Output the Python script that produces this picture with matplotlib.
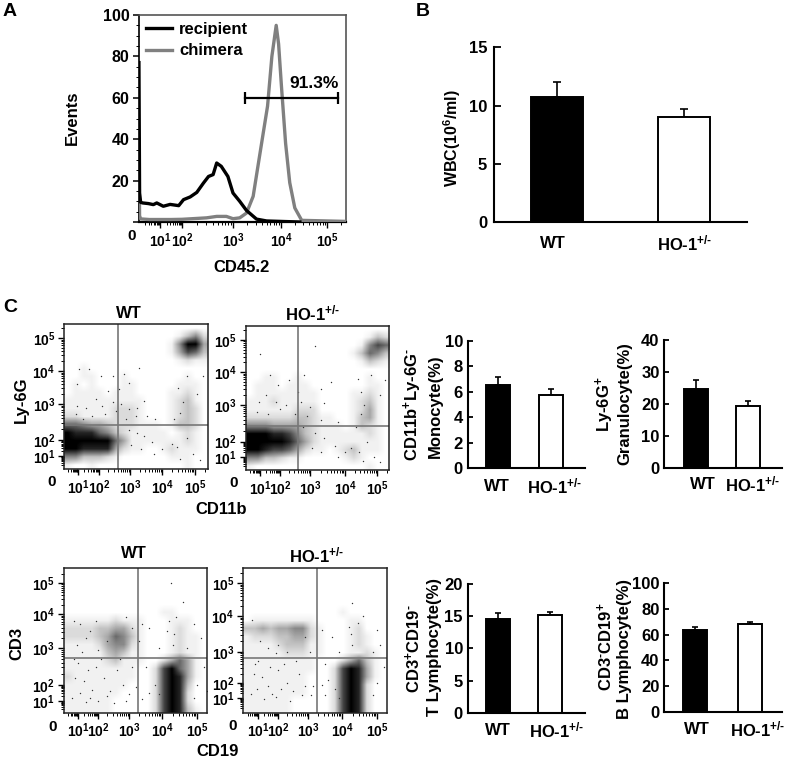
import numpy as np
import matplotlib
matplotlib.use("Agg")
import matplotlib.pyplot as plt
from matplotlib import font_manager as fm
from matplotlib.ticker import FixedLocator, NullFormatter

W, H = 788, 761
names = {f.name for f in fm.fontManager.ttflist}
BOLD = "Liberation Sans"
NARROW = "Liberation Sans Narrow" if "Liberation Sans Narrow" in names else BOLD
plt.rcParams.update({
    "font.family": BOLD, "font.weight": "bold",
    "mathtext.fontset": "custom", "mathtext.default": "rm",
    "mathtext.rm": BOLD + ":bold", "mathtext.bf": BOLD + ":bold",
    "mathtext.sf": NARROW + ":bold", "mathtext.it": BOLD + ":bold",
})
MINUS = r"\text{-}"

# ---------- Panel A data (log10 of CD45.2, % of max events)
recipient_log = [0.02, 0.05, 0.1, 0.2, 0.46, 0.69, 0.85, 1.15, 1.46, 1.85, 2.03, 2.16, 2.29, 2.42, 2.52,
                 2.61, 2.68, 2.77, 2.9, 3.0, 3.14, 3.28, 3.49, 3.7, 4.41]
recipient_y = [77, 14, 9.5, 9.2, 8.9, 8.4, 9.2, 7.6, 8.5, 7.9, 10.8, 12.1, 14.3, 18.8, 22,
               22.9, 28.5, 26.9, 22, 14, 10, 5.6, 1.4, 0.5, 0]
chimera_log = [0.02, 0.05, 0.1, 0.5, 1.0, 1.5, 2.0, 2.48, 2.68, 2.87, 3.0, 3.14, 3.28, 3.42, 3.52, 3.63,
               3.72, 3.81, 3.9, 3.95, 4.01, 4.1, 4.19, 4.3, 4.45, 5.39]
chimera_y = [40, 3, 1.5, 1.2, 1.2, 1.2, 1.3, 2, 2.7, 2.7, 1.6, 2, 4.3, 12.4, 27, 43,
             56, 80, 95, 86, 65.5, 38, 19, 6.8, 0.8, 0.3]
gate_log = [3.24, 5.23]
gate_y = 60

# ---------- Bar data
groups = ["WT", "HO-1$^{+/" + MINUS + "}$"]
wbc_mean, wbc_top = [10.77, 9.03], [12.0, 9.74]
mono_mean, mono_top = [6.5, 5.77], [7.13, 6.19]
gran_mean, gran_top = [24.8, 19.27], [27.5, 20.9]
tcell_mean, tcell_top = [14.56, 15.23], [15.44, 15.7]
bcell_mean, bcell_top = [63.4, 68.6], [66.2, 70.1]

# ---------- Dot-plot event density (0 empty .. 9 black), top row first
ly6g_wt = ["000000000000000000", "000000000000001352", "000000000000015994", "000000000000014763",
           "000000000000001211", "001000000000000000", "001100010000000100", "010100011000001110",
           "011110111000011210", "111111111100012310", "111111222100012320", "221111222100012320",
           "665443222111013320", "988865321111101210", "999999641111111210", "998888421100121110",
           "553332100000011100", "100100000000000100"]
ly6g_ho = ["000000000000000000", "000000000000000132", "000000000000001576", "000000000000013653",
           "000000000000001321", "000000000000000000", "001100100000000100", "011101110000000110",
           "011111111000011210", "111211111000012310", "111111222000012410", "222222332110013410",
           "555444432111013210", "999887532111111210", "999998642111111110", "998776421101231110",
           "553321100000121000", "100000000000000100"]
cd3_wt = ["000000000000000000", "000000000000000000", "000000000000000000", "000000000000000000",
          "000000000000000000", "000000000000110000", "111111211100011100", "222233442100012100",
          "222234653100012110", "111124552100012110", "111113431100012110", "111112311100246410",
          "111111111002796410", "211111111002798410", "111111110002798300", "111111100002798200",
          "111111000002798200", "111111000002798310"]
cd3_ho = ["000000000000000000", "000000000000000000", "000000000000000000", "000000000000000000",
          "000000000000000000", "000000000000100000", "011111111000011000", "334344552100012000",
          "122233442100012100", "111123331100012100", "111112221100011210", "111111111000246310",
          "111111111002798410", "111111110002798410", "111111110002798200", "111111110002798200",
          "111111000002798200", "111111000002798200"]

# ---------- Individually visible stray events (log10 x, log10 y)
ly6g_wt_x = [1.05, 1.54, 2.05, 2.46, 2.82, 3.28, 2.97, 0.92, 1.85, 2.3, 2.63, 0.92, 1.38, 2.1, 2.46, 2.71, 2.97,
             3.23, 3.43, 0.85, 1.23, 1.69, 2.2, 2.56, 2.87, 3.18, 3.54, 3.79, 2.97, 3.23, 3.43, 3.69, 4.0, 4.3,
             4.45, 4.75, 4.95, 5.15, 4.55, 3.33, 3.74, 3.02, 4.5, 4.75, 4.65, 5.05, 4.55, 4.35, 5.25]
ly6g_wt_y = [4.07, 4.05, 3.85, 3.85, 3.9, 4.1, 3.65, 3.6, 3.15, 3.4, 3.45, 2.95, 2.9, 2.95, 3.05, 3.0, 2.86,
             2.9, 3.1, 2.71, 2.57, 2.67, 2.71, 2.81, 2.57, 2.67, 2.67, 2.57, 2.29, 2.19, 2.1, 1.89, 1.44, 1.78,
             1.56, 2.05, 1.11, 0.7, 0.8, 1.44, 1.11, 1.67, 3.5, 3.85, 3.05, 3.3, 2.76, 2.57, 3.85]
ly6g_ho_x = [1.0, 3.15, 1.5, 1.9, 2.3, 2.8, 2.6, 3.3, 3.6, 0.9, 1.3, 1.8, 2.2, 2.7, 3.0, 3.4, 0.8, 1.4, 2.0, 2.5,
             2.9, 3.3, 3.8, 3.15, 3.4, 3.7, 4.0, 4.2, 4.45, 4.7, 4.9, 5.1, 4.55, 3.3, 3.8, 3.05, 4.5, 4.8, 4.6,
             5.1, 4.5, 4.35, 5.25, 4.4, 2.75]
ly6g_ho_y = [4.55, 4.8, 3.9, 3.6, 3.75, 3.9, 3.4, 3.5, 3.7, 3.1, 3.3, 3.1, 3.0, 3.1, 2.95, 3.05, 2.8, 2.75, 2.9,
             2.75, 2.7, 2.6, 2.55, 2.25, 2.1, 1.7, 1.3, 1.6, 1.3, 2.0, 1.0, 0.6, 0.7, 1.3, 0.95, 1.6, 3.4, 3.9,
             3.0, 3.3, 2.75, 2.4, 3.75, 3.8, 2.4]
cd3_wt_x = [1.0, 1.3, 1.5, 1.1, 1.7, 1.9, 2.2, 2.4, 2.6, 2.8, 3.0, 3.1, 0.6, 0.8, 1.4, 2.0, 2.5, 2.9, 3.2, 0.7,
            2.1, 2.7, 1.6, 2.3, 4.25, 4.6, 4.4, 4.2, 4.35, 4.3, 4.15, 4.9, 5.1, 4.7, 3.6, 3.4, 3.3, 3.9, 3.5,
            3.8, 3.6, 3.4, 3.9, 5.0, 4.9, 5.2, 5.3, 0.7, 1.1, 1.4, 0.9, 1.6, 1.9, 2.3, 3.1, 2.9, 1.2, 2.0]
cd3_wt_y = [2.6, 2.1, 2.4, 1.5, 1.7, 2.5, 2.2, 1.6, 2.4, 2.0, 1.4, 2.5, 1.2, 2.2, 0.9, 1.0, 0.8, 1.0, 1.9, 2.7,
            2.7, 2.7, 1.2, 1.3, 5.0, 4.4, 3.9, 3.8, 3.4, 3.1, 3.5, 3.7, 3.3, 3.0, 3.6, 3.7, 3.2, 3.0, 2.5,
            2.0, 1.5, 1.1, 1.4, 2.0, 1.2, 2.5, 1.6, 3.8, 3.7, 3.3, 3.1, 3.5, 3.8, 3.2, 3.6, 3.9, 2.9, 2.95]
cd3_ho_x = [0.8, 1.2, 1.6, 0.9, 1.5, 2.0, 2.3, 2.5, 2.7, 2.9, 3.1, 0.5, 0.7, 1.3, 1.9, 2.4, 2.8, 3.15, 1.0, 2.2,
            2.6, 1.7, 2.1, 4.3, 4.6, 4.45, 4.2, 4.3, 4.25, 4.9, 5.1, 5.0, 3.7, 3.4, 3.5, 3.9, 3.6, 3.8, 3.5,
            3.4, 3.9, 5.0, 4.9, 5.2, 0.6, 1.1, 1.5, 2.0, 2.3, 2.9, 3.05, 1.9]
cd3_ho_y = [2.6, 2.2, 2.5, 1.6, 1.8, 2.4, 2.0, 1.5, 2.3, 1.8, 1.2, 1.3, 2.3, 0.9, 1.1, 0.8, 1.2, 1.8, 2.7, 2.6,
            2.7, 1.3, 1.6, 4.4, 4.0, 3.8, 3.7, 3.2, 3.5, 3.0, 3.2, 3.6, 3.4, 3.6, 2.6, 3.0, 2.1, 1.6, 1.2,
            1.9, 1.0, 2.0, 1.2, 2.5, 3.9, 3.3, 3.1, 3.2, 3.0, 3.4, 3.0, 2.95]

# gates (log10 x, log10 y)
gates = {"ly6g_wt": (2.62, 2.42), "ly6g_ho": (2.60, 2.44), "cd3_wt": (3.26, 2.73), "cd3_ho": (3.26, 2.80)}
decades = [1, 2, 3, 4, 5]


def axes_px(l, t, r, b):
    return fig.add_axes([l / W, 1 - b / H, (r - l) / W, (b - t) / H])


def ptext(x, y, s, **kw):
    kw.setdefault("ha", "center")
    kw.setdefault("va", "center")
    kw.setdefault("fontsize", 12)
    fig.text(x / W, 1 - y / H, s, **kw)


def biex(ax, axis, edge0, anchors, edge1):
    """Axis scale with decades at the read pixel anchors."""
    a = list(anchors)
    end = 5 + (edge1 - a[-1]) / (a[-1] - a[-2])
    logs = np.array([0] + decades + [end], float)
    pos = np.array([edge0] + a + [edge1], float)
    if pos[0] > pos[-1]:
        pos = -pos

    def f(v):
        return np.interp(np.log10(np.maximum(v, 1e-6)), logs, pos)

    def g(p):
        return 10 ** np.interp(p, pos, logs)

    lim = (1, 10 ** end)
    if axis == "x":
        ax.set_xscale("function", functions=(f, g))
        ax.set_xlim(lim)
        ai = ax.xaxis
    else:
        ax.set_yscale("function", functions=(f, g))
        ax.set_ylim(lim)
        ai = ax.yaxis
    return ai, end


def set_log_ticks(ai, end, ax, axis, minor=True):
    ai.set_major_locator(FixedLocator([10.0 ** d for d in decades]))
    ai.set_major_formatter(plt.FixedFormatter([r"$\mathsf{10^{%d}}$" % d for d in decades]))
    mins = [m * 10.0 ** d for d in range(0, 6) for m in range(2, 10) if m * 10.0 ** d < 10 ** end]
    ai.set_minor_locator(FixedLocator(mins))
    ai.set_minor_formatter(NullFormatter())
    ax.tick_params(axis=axis, which="major", length=4, width=1.0, labelsize=10, pad=2.5)
    ax.tick_params(axis=axis, which="minor", length=2, width=0.7)


def dot_panel(box, xa, ya, grid, stray_x, stray_y, gate, zero_px, title, title_px):
    l, t, r, b = box
    ax = axes_px(l, t, r, b)
    xi, xe = biex(ax, "x", l, xa, r)
    yi, ye = biex(ax, "y", b, ya, t)
    set_log_ticks(xi, xe, ax, "x")
    set_log_ticks(yi, ye, ax, "y")
    dens = np.array([[int(c) for c in row] for row in grid], float)
    ax.imshow((dens / 9) ** 1.3, extent=(0, 1, 0, 1), transform=ax.transAxes, aspect="auto",
              cmap="gray_r", vmin=0, vmax=1, interpolation="bilinear", zorder=1)
    ax.scatter(10 ** np.array(stray_x), 10 ** np.array(stray_y), s=1.0, color="#333333", linewidths=0, zorder=1.5)
    ax.set_xlim(1, 10 ** xe)
    ax.set_ylim(1, 10 ** ye)
    ax.axvline(10 ** gate[0], color="#777777", lw=1.2, zorder=2)
    ax.axhline(10 ** gate[1], color="#777777", lw=1.2, zorder=2)
    for s in ax.spines.values():
        s.set_linewidth(1.1)
        s.set_color("#222222")
    ptext(zero_px[0], zero_px[1], "0", fontsize=11, family=NARROW)
    ptext(title_px[0], title_px[1], title)
    return ax


def bar_panel(box, c0, c1, width, ymax, yticks, means, tops, wt_x, ho_x, lab_y, cap, tick_len, tick_pad):
    l, t, r, b = box
    ax = axes_px(l, t, r, b)
    sp = c1 - c0
    ax.set_xlim((l - c0) / sp, (r - c0) / sp)
    ax.set_ylim(0, ymax)
    errs = np.array(tops) - np.array(means)
    ax.errorbar([0, 1], means, yerr=[[0, 0], errs], fmt="none", ecolor="black",
                elinewidth=1.2, capsize=cap, capthick=1.2, zorder=1)
    ax.bar([0, 1], means, width=width / sp, color=["black", "white"], edgecolor="black", linewidth=1.4, zorder=2)
    ax.spines[["top", "right"]].set_visible(False)
    ax.spines[["left", "bottom"]].set_linewidth(1.5)
    ax.set_xticks([])
    ax.set_yticks(yticks)
    ax.set_yticklabels([str(v) for v in yticks], family=NARROW, fontsize=12)
    ax.tick_params(axis="y", direction="in", length=tick_len, width=1.3, pad=tick_pad)
    ptext(wt_x, lab_y, groups[0])
    ptext(ho_x, lab_y, groups[1])
    return ax


fig = plt.figure(figsize=(W / 100, H / 100), dpi=100)

# ---------- Panel A
axA = axes_px(138.5, 15, 346, 222)
xi, xe = biex(axA, "x", 138.5, [160, 182, 233, 281, 327], 346)
set_log_ticks(xi, xe, axA, "x")
axA.set_ylim(0, 100)
axA.set_yticks([0, 20, 40, 60, 80, 100])
axA.set_yticklabels(["", "20", "40", "60", "80", "100"], family=NARROW, fontsize=11.5)
axA.set_yticks(np.arange(0, 101, 5), minor=True)
axA.tick_params(axis="y", which="major", length=4.5, width=1.1, pad=2)
axA.tick_params(axis="y", which="minor", length=2, width=0.7)
axA.plot(10 ** np.array(chimera_log), chimera_y, color="#808080", lw=2.4, label="chimera", zorder=3)
axA.plot(10 ** np.array(recipient_log), recipient_y, color="black", lw=2.4, label="recipient", zorder=4)
gl = 10 ** np.array(gate_log)
axA.plot(gl, [gate_y, gate_y], color="black", lw=1.6, zorder=5)
axA.plot(gl, [gate_y, gate_y], ls="none", marker="|", ms=8, mew=1.6, color="black", zorder=5)
handles, labels = axA.get_legend_handles_labels()
axA.legend(handles[::-1], labels[::-1], loc="upper left", bbox_to_anchor=(0.036, 0.967), frameon=False,
           fontsize=12, handlelength=1.55, handletextpad=0.45, labelspacing=0.4, borderpad=0, borderaxespad=0)
for name, sp in axA.spines.items():
    sp.set_linewidth(1.2)
    sp.set_color("black" if name in ("left", "bottom") else "#555555")
axA.spines["bottom"].set_linewidth(1.6)
ptext(314, 83, "91.3%", fontsize=12.5)
ptext(132, 236, "0", fontsize=11, family=NARROW)
ptext(242, 267, "CD45.2")
ptext(72, 118, "Events", rotation=90)

# ---------- Panel B
bar_panel((494, 47.3, 747, 222.3), 557, 684, 52, 15, [0, 5, 10, 15], wbc_mean, wbc_top, 553, 685, 243, 2.9, 5, 5)
ptext(452, 138, "WBC(10$^{6}$/ml)", rotation=90, fontsize=11.5)

# ---------- Panel C dot plots
ho_title = "HO-1$^{+/" + MINUS + "}$"
dot_panel((64.3, 324.3, 208.3, 469), [78, 99, 130, 162, 195], [456, 440, 404, 371, 338], ly6g_wt,
          ly6g_wt_x, ly6g_wt_y, gates["ly6g_wt"], (52, 482), "WT", (129, 313))
dot_panel((245.7, 325.7, 389, 470), [260, 280, 310, 345, 377], [456.7, 441.7, 405, 372, 340], ly6g_ho,
          ly6g_ho_x, ly6g_ho_y, gates["ly6g_ho"], (234, 483), ho_title, (313, 313))
dot_panel((64, 568.3, 207.3, 712.7), [78, 98, 129, 162, 197], [700.7, 685, 648, 614, 583], cd3_wt,
          cd3_wt_x, cd3_wt_y, gates["cd3_wt"], (53, 727), "WT", (134, 553))
dot_panel((243.3, 568.3, 386.7, 712.7), [258, 278, 308, 342, 377], [698, 683, 651.7, 616, 583], cd3_ho,
          cd3_ho_x, cd3_ho_y, gates["cd3_ho"], (233, 726), ho_title, (317, 555))
ptext(21, 400, "Ly-6G", rotation=90)
ptext(221, 510, "CD11b")
ptext(17, 643, "CD3", rotation=90)
ptext(218, 752, "CD19")

# ---------- Panel C bars
bar_panel((467.7, 340.7, 585, 468.3), 498.3, 551.3, 24, 10, [0, 2, 4, 6, 8, 10], mono_mean, mono_top, 497, 555, 486.5, 2, 3.6, 3.4)
bar_panel((664.3, 340, 782.3, 468), 695.7, 748, 24, 40, [0, 10, 20, 30, 40], gran_mean, gran_top, 703, 753, 484, 2, 3.6, 3.4)
bar_panel((467.7, 584, 585, 712.7), 498, 550, 24, 20, [0, 5, 10, 15, 20], tcell_mean, tcell_top, 498, 557, 730.5, 2, 3.6, 3.4)
bar_panel((664.3, 583.3, 782.3, 711.7), 695.3, 749.5, 24, 100, [0, 20, 40, 60, 80, 100], bcell_mean, bcell_top, 697, 758, 729, 2, 3.6, 3.4)

ptext(413, 405, "CD11b$^{+}$Ly-6G$^{" + MINUS + "}$", rotation=90)
ptext(435, 406, "Monocyte(%)", rotation=90)
ptext(605, 404, "Ly-6G$^{+}$", rotation=90)
ptext(625, 404, "Granulocyte(%)", rotation=90)
ptext(413, 649, "CD3$^{+}$CD19$^{" + MINUS + "}$", rotation=90)
ptext(434, 647, "T Lymphocyte(%)", rotation=90)
ptext(605, 647, "CD3$^{" + MINUS + "}$CD19$^{+}$", rotation=90)
ptext(625, 649, "B Lymphocyte(%)", rotation=90)

# ---------- Panel letters
ptext(10, 12, "A", fontsize=14)
ptext(423, 11, "B", fontsize=14)
ptext(10, 307, "C", fontsize=14)

fig.savefig("out.png", dpi=100)
